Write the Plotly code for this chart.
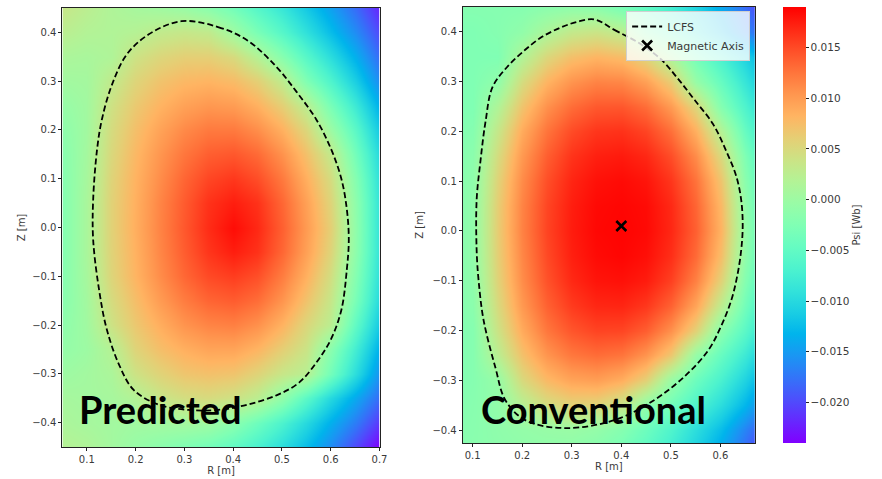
import plotly.graph_objects as go

# ---------------- data ----------------
R_GRID = [0.05, 0.10, 0.15, 0.20, 0.25, 0.30, 0.35, 0.40, 0.45, 0.50, 0.55, 0.60, 0.65, 0.70]
Z_GRID = [-0.45, -0.40, -0.35, -0.30, -0.25, -0.20, -0.15, -0.10, -0.05, 0.00,
          0.05, 0.10, 0.15, 0.20, 0.25, 0.30, 0.35, 0.40, 0.45]

# Psi [Wb], rows follow Z_GRID (bottom -> top), columns follow R_GRID
PSI_PREDICTED = [
    [0.0020, 0.0015, 0.0005, -0.0005, -0.0015, -0.0025, -0.0035, -0.0050, -0.0070, -0.0095, -0.0125, -0.0160, -0.0200, -0.0240],
    [0.0012, 0.0008, 0.0005, 0.0003, 0.0005, 0.0006, 0.0003, -0.0015, -0.0040, -0.0068, -0.0100, -0.0135, -0.0170, -0.0210],
    [0.0008, 0.0006, 0.0008, 0.0018, 0.0036, 0.0045, 0.0048, 0.0041, 0.0025, -0.0010, -0.0055, -0.0100, -0.0140, -0.0180],
    [0.0000, 0.0005, 0.0012, 0.0040, 0.0056, 0.0068, 0.0072, 0.0069, 0.0055, 0.0035, 0.0022, -0.0035, -0.0095, -0.0155],
    [-0.0008, 0.0000, 0.0020, 0.0055, 0.0074, 0.0086, 0.0094, 0.0094, 0.0082, 0.0060, 0.0038, -0.0015, -0.0075, -0.0135],
    [-0.0013, 0.0003, 0.0040, 0.0066, 0.0087, 0.0105, 0.0115, 0.0118, 0.0107, 0.0083, 0.0052, 0.0025, -0.0050, -0.0115],
    [-0.0018, 0.0005, 0.0047, 0.0074, 0.0100, 0.0120, 0.0134, 0.0139, 0.0129, 0.0104, 0.0070, 0.0035, -0.0030, -0.0100],
    [-0.0020, 0.0008, 0.0054, 0.0082, 0.0110, 0.0133, 0.0150, 0.0157, 0.0147, 0.0120, 0.0085, 0.0045, -0.0020, -0.0092],
    [-0.0022, 0.0010, 0.0056, 0.0084, 0.0114, 0.0139, 0.0161, 0.0174, 0.0163, 0.0133, 0.0096, 0.0055, -0.0012, -0.0088],
    [-0.0022, 0.0010, 0.0057, 0.0086, 0.0116, 0.0142, 0.0166, 0.0183, 0.0168, 0.0137, 0.0100, 0.0060, -0.0010, -0.0088],
    [-0.0022, 0.0010, 0.0057, 0.0085, 0.0115, 0.0140, 0.0163, 0.0174, 0.0163, 0.0133, 0.0096, 0.0055, -0.0012, -0.0088],
    [-0.0020, 0.0008, 0.0055, 0.0083, 0.0110, 0.0134, 0.0152, 0.0160, 0.0148, 0.0122, 0.0086, 0.0047, -0.0020, -0.0092],
    [-0.0018, 0.0006, 0.0051, 0.0079, 0.0104, 0.0124, 0.0138, 0.0142, 0.0131, 0.0106, 0.0072, 0.0032, -0.0035, -0.0100],
    [-0.0013, 0.0004, 0.0047, 0.0073, 0.0095, 0.0112, 0.0122, 0.0122, 0.0109, 0.0085, 0.0052, 0.0000, -0.0055, -0.0115],
    [-0.0006, 0.0004, 0.0041, 0.0065, 0.0083, 0.0096, 0.0103, 0.0100, 0.0085, 0.0060, 0.0025, -0.0030, -0.0080, -0.0135],
    [0.0004, 0.0006, 0.0030, 0.0054, 0.0070, 0.0079, 0.0082, 0.0076, 0.0059, 0.0028, -0.0025, -0.0065, -0.0110, -0.0160],
    [0.0012, 0.0010, 0.0015, 0.0040, 0.0053, 0.0060, 0.0060, 0.0049, 0.0020, -0.0018, -0.0058, -0.0095, -0.0135, -0.0180],
    [0.0025, 0.0018, 0.0016, 0.0020, 0.0030, 0.0034, 0.0030, 0.0002, -0.0030, -0.0060, -0.0092, -0.0125, -0.0160, -0.0200],
    [0.0035, 0.0025, 0.0015, 0.0008, 0.0003, -0.0003, -0.0015, -0.0035, -0.0060, -0.0085, -0.0115, -0.0145, -0.0180, -0.0220],
]

PSI_CONVENTIONAL = [
    [-0.0018, -0.0016, -0.0014, -0.0012, -0.0012, -0.0015, -0.0022, -0.0035, -0.0055, -0.0080, -0.0110, -0.0145, -0.0185, -0.0230],
    [-0.0020, -0.0017, -0.0012, -0.0008, -0.0005, -0.0003, -0.0008, -0.0020, -0.0040, -0.0065, -0.0095, -0.0125, -0.0165, -0.0205],
    [-0.0022, -0.0018, -0.0010, 0.0020, 0.0045, 0.0057, 0.0055, 0.0036, -0.0010, -0.0035, -0.0065, -0.0095, -0.0130, -0.0175],
    [-0.0025, -0.0020, -0.0005, 0.0049, 0.0078, 0.0094, 0.0098, 0.0087, 0.0059, -0.0002, -0.0040, -0.0070, -0.0105, -0.0150],
    [-0.0025, -0.0020, 0.0024, 0.0071, 0.0104, 0.0123, 0.0130, 0.0125, 0.0105, 0.0067, -0.0005, -0.0045, -0.0080, -0.0125],
    [-0.0025, -0.0020, 0.0039, 0.0088, 0.0123, 0.0143, 0.0153, 0.0152, 0.0138, 0.0107, 0.0057, -0.0015, -0.0055, -0.0105],
    [-0.0025, -0.0015, 0.0049, 0.0101, 0.0136, 0.0158, 0.0169, 0.0170, 0.0160, 0.0136, 0.0093, 0.0027, -0.0035, -0.0090],
    [-0.0025, -0.0012, 0.0056, 0.0109, 0.0145, 0.0168, 0.0179, 0.0181, 0.0175, 0.0155, 0.0117, 0.0057, -0.0020, -0.0080],
    [-0.0025, -0.0010, 0.0060, 0.0113, 0.0150, 0.0173, 0.0184, 0.0187, 0.0182, 0.0165, 0.0131, 0.0075, -0.0010, -0.0075],
    [-0.0025, -0.0010, 0.0062, 0.0116, 0.0153, 0.0175, 0.0186, 0.0188, 0.0185, 0.0169, 0.0137, 0.0083, -0.0005, -0.0072],
    [-0.0025, -0.0010, 0.0061, 0.0115, 0.0152, 0.0174, 0.0185, 0.0187, 0.0184, 0.0168, 0.0134, 0.0079, -0.0008, -0.0075],
    [-0.0025, -0.0012, 0.0056, 0.0110, 0.0147, 0.0170, 0.0181, 0.0184, 0.0179, 0.0161, 0.0126, 0.0069, -0.0015, -0.0080],
    [-0.0025, -0.0015, 0.0047, 0.0101, 0.0138, 0.0162, 0.0173, 0.0176, 0.0169, 0.0148, 0.0110, 0.0050, -0.0025, -0.0085],
    [-0.0025, -0.0020, 0.0034, 0.0088, 0.0125, 0.0149, 0.0161, 0.0163, 0.0153, 0.0128, 0.0085, 0.0020, -0.0045, -0.0095],
    [-0.0025, -0.0025, 0.0016, 0.0069, 0.0107, 0.0130, 0.0142, 0.0143, 0.0130, 0.0101, 0.0053, -0.0020, -0.0065, -0.0110],
    [-0.0025, -0.0025, -0.0010, 0.0046, 0.0082, 0.0105, 0.0116, 0.0114, 0.0097, 0.0063, -0.0005, -0.0045, -0.0085, -0.0130],
    [-0.0025, -0.0025, -0.0025, 0.0016, 0.0052, 0.0073, 0.0082, 0.0076, 0.0054, 0.0013, -0.0035, -0.0070, -0.0105, -0.0150],
    [-0.0025, -0.0025, -0.0020, -0.0010, 0.0013, 0.0032, 0.0038, 0.0028, -0.0020, -0.0050, -0.0085, -0.0120, -0.0160, -0.0200],
    [-0.0020, -0.0020, -0.0020, -0.0020, -0.0015, -0.0012, -0.0015, -0.0030, -0.0050, -0.0075, -0.0105, -0.0140, -0.0180, -0.0220],
]

# Last closed flux surface traces
LCFS_PRED_R = [0.294, 0.369, 0.430, 0.488, 0.530, 0.570, 0.601, 0.622, 0.633, 0.637, 0.633, 0.622,
               0.601, 0.574, 0.535, 0.491, 0.430, 0.369, 0.308, 0.247, 0.196, 0.166, 0.141, 0.125,
               0.113, 0.113, 0.121, 0.131, 0.152, 0.182, 0.227, 0.294]
LCFS_PRED_Z = [0.423, 0.411, 0.383, 0.330, 0.278, 0.222, 0.160, 0.099, 0.037, -0.025, -0.086, -0.168,
               -0.228, -0.272, -0.318, -0.343, -0.363, -0.374, -0.374, -0.363, -0.333, -0.281, -0.209, -0.127,
               -0.025, 0.057, 0.160, 0.222, 0.294, 0.355, 0.396, 0.423]

LCFS_CONV_R = [0.346, 0.386, 0.435, 0.480, 0.515, 0.548, 0.585, 0.612, 0.632, 0.642, 0.645, 0.642,
               0.634, 0.622, 0.602, 0.576, 0.530, 0.466, 0.386, 0.286, 0.206, 0.166, 0.146, 0.122,
               0.112, 0.108, 0.108, 0.116, 0.126, 0.140, 0.170, 0.206, 0.240, 0.276, 0.310, 0.346]
LCFS_CONV_Z = [0.425, 0.404, 0.378, 0.345, 0.305, 0.263, 0.215, 0.160, 0.110, 0.062, 0.010, -0.038,
               -0.090, -0.139, -0.190, -0.239, -0.290, -0.340, -0.380, -0.396, -0.380, -0.340, -0.275, -0.179,
               -0.100, -0.038, 0.062, 0.143, 0.220, 0.289, 0.330, 0.364, 0.390, 0.408, 0.420, 0.425]

MAG_AXIS_R = [0.40]
MAG_AXIS_Z = [0.01]

CBAR_TICKS = [-0.020, -0.015, -0.010, -0.005, 0.000, 0.005, 0.010, 0.015]
R_TICKS_PRED = [0.1, 0.2, 0.3, 0.4, 0.5, 0.6, 0.7]
R_TICKS_CONV = [0.1, 0.2, 0.3, 0.4, 0.5, 0.6]
Z_TICKS = [-0.4, -0.3, -0.2, -0.1, 0.0, 0.1, 0.2, 0.3, 0.4]

# matplotlib "rainbow" colormap
RAINBOW = [
    [0.00, "rgb(128,0,255)"], [0.05, "rgb(102,40,254)"], [0.10, "rgb(77,79,252)"],
    [0.15, "rgb(51,116,248)"], [0.20, "rgb(26,150,243)"], [0.25, "rgb(0,180,236)"],
    [0.30, "rgb(26,206,227)"], [0.35, "rgb(51,227,218)"], [0.40, "rgb(77,243,206)"],
    [0.45, "rgb(102,252,194)"], [0.50, "rgb(128,255,180)"], [0.55, "rgb(153,252,166)"],
    [0.60, "rgb(179,243,150)"], [0.65, "rgb(204,227,133)"], [0.70, "rgb(230,206,116)"],
    [0.75, "rgb(255,180,98)"], [0.80, "rgb(255,150,79)"], [0.85, "rgb(255,116,59)"],
    [0.90, "rgb(255,79,40)"], [0.95, "rgb(255,40,20)"], [1.00, "rgb(255,0,0)"],
]

W, H = 882, 479
FONT = "DejaVu Sans"
TXT = "#3a3a3a"

fig = go.Figure()

fig.add_trace(go.Heatmap(x=R_GRID, y=Z_GRID, z=PSI_PREDICTED, coloraxis="coloraxis",
                         zsmooth="best", xaxis="x", yaxis="y", showlegend=False, hoverinfo="skip"))
fig.add_trace(go.Heatmap(x=R_GRID, y=Z_GRID, z=PSI_CONVENTIONAL, coloraxis="coloraxis",
                         zsmooth="best", xaxis="x2", yaxis="y2", showlegend=False, hoverinfo="skip"))

dash_style = dict(color="black", width=1.8, dash="6px,3px")
fig.add_trace(go.Scatter(x=LCFS_PRED_R, y=LCFS_PRED_Z, mode="lines", name="LCFS",
                         line=dash_style, line_shape="spline", xaxis="x", yaxis="y", legend="legend"))
fig.add_trace(go.Scatter(x=LCFS_CONV_R, y=LCFS_CONV_Z, mode="lines", name="LCFS",
                         line=dash_style, line_shape="spline", xaxis="x2", yaxis="y2", legend="legend2"))
fig.add_trace(go.Scatter(x=MAG_AXIS_R, y=MAG_AXIS_Z, mode="markers", name="Magnetic Axis",
                         marker=dict(symbol="x-thin", size=10, color="black",
                                     line=dict(width=2.6, color="black")),
                         xaxis="x2", yaxis="y2", legend="legend2"))

axis_common = dict(showgrid=False, zeroline=False, showline=True, mirror=True,
                   linecolor="#222", linewidth=1, ticks="outside", ticklen=3,
                   tickcolor="#222", tickfont=dict(family=FONT, size=10, color=TXT))

fig.update_layout(
    width=W, height=H,
    margin=dict(l=0, r=0, t=0, b=0),
    paper_bgcolor="white", plot_bgcolor="white",
    font=dict(family=FONT, size=10, color=TXT),
    xaxis=dict(domain=[63 / W, 383 / W], range=[0.05, 0.70], tickvals=R_TICKS_PRED, tickformat=".1f",
               title=dict(text="R [m]", standoff=2, font=dict(size=10)), anchor="y", **axis_common),
    yaxis=dict(domain=[1 - 447 / H, 1 - 8 / H], range=[-0.45, 0.45], tickvals=Z_TICKS, tickformat=".1f",
               title=dict(text="Z [m]", standoff=4, font=dict(size=10)), anchor="x", **axis_common),
    xaxis2=dict(domain=[467 / W, 762 / W], range=[0.08, 0.67], tickvals=R_TICKS_CONV, tickformat=".1f",
                title=dict(text="R [m]", standoff=2, font=dict(size=10)), anchor="y2", **axis_common),
    yaxis2=dict(domain=[1 - 443 / H, 1 - 7 / H], range=[-0.426, 0.45], tickvals=Z_TICKS, tickformat=".1f",
                title=dict(text="Z [m]", standoff=6, font=dict(size=10)), anchor="x2", **axis_common),
    coloraxis=dict(
        colorscale=RAINBOW, cmin=-0.024, cmax=0.019,
        colorbar=dict(
            x=790 / W, xanchor="left", xpad=0, ypad=0,
            y=1 - 225 / H, yanchor="middle", len=436 / H, lenmode="fraction",
            thickness=23, thicknessmode="pixels", outlinewidth=0,
            tickvals=CBAR_TICKS, tickformat=".3f", ticks="outside", ticklen=3,
            tickcolor="#222", tickfont=dict(family=FONT, size=10.5, color=TXT),
            title=dict(text="Psi [Wb]", side="right", font=dict(family=FONT, size=10, color=TXT)),
        ),
    ),
    legend=dict(x=376 / W, xanchor="right", y=1 - 11 / H, yanchor="top",
                bgcolor="rgba(255,255,255,0.8)", bordercolor="#d0d0d0", borderwidth=1,
                font=dict(family=FONT, size=11, color=TXT), itemwidth=30),
    legend2=dict(x=757 / W, xanchor="right", y=1 - 11 / H, yanchor="top",
                 bgcolor="rgba(255,255,255,0.8)", bordercolor="#d0d0d0", borderwidth=1,
                 font=dict(family=FONT, size=11, color=TXT), itemwidth=30, tracegroupgap=0),
    annotations=[
        dict(text="Predicted", x=78 / W, y=1 - 409 / H, xref="paper", yref="paper",
             xanchor="left", yanchor="middle", showarrow=False,
             font=dict(family="Lato", size=38, color="black", weight="bold")),
        dict(text="Conventional", x=483 / W, y=1 - 409 / H, xref="paper", yref="paper",
             xanchor="left", yanchor="middle", showarrow=False,
             font=dict(family="Lato", size=38, color="black", weight="bold")),
    ],
)

fig.write_html("out.html")
